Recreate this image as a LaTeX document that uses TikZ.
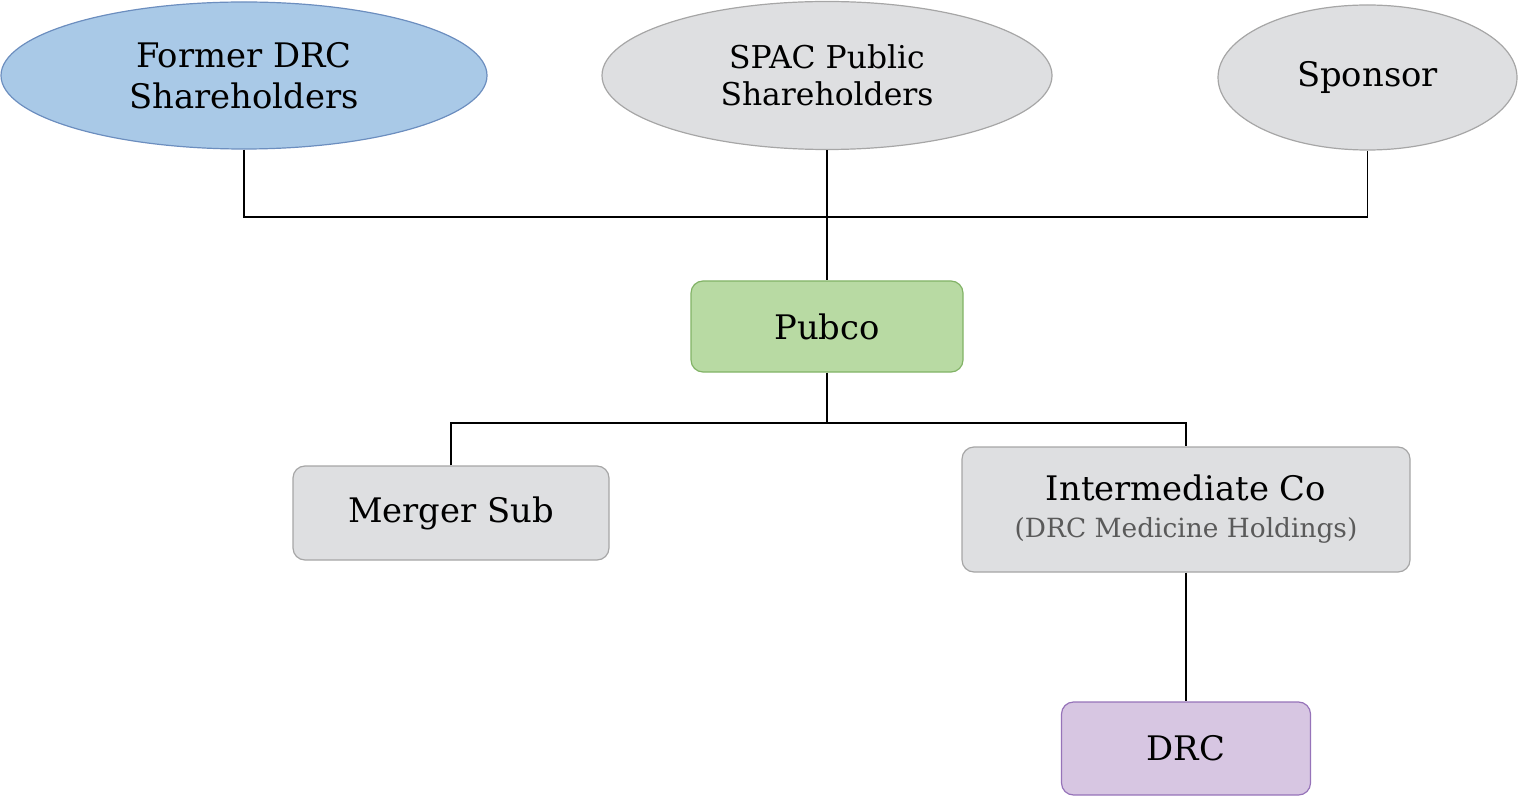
\documentclass[tikz,border=0pt]{standalone}
\usepackage{fontspec}
\setmainfont{DejaVu Serif}
\usepackage{tikz}
\usetikzlibrary{shapes.geometric,positioning}

\definecolor{blueFill}{HTML}{A9C9E7}
\definecolor{blueLine}{HTML}{6C8EBF}
\definecolor{greyFill}{HTML}{DEDFE1}
\definecolor{greyLine}{HTML}{A6A6A6}
\definecolor{greenFill}{HTML}{B8DAA3}
\definecolor{greenLine}{HTML}{82B366}
\definecolor{purpleFill}{HTML}{D7C6E2}
\definecolor{purpleLine}{HTML}{9673B9}
\definecolor{subText}{HTML}{5A5A5A}

\begin{document}
\begin{tikzpicture}[x=0.5pt,y=-0.5pt,
	holder/.style={ellipse, draw=greyLine, fill=greyFill, line width=0.6pt, align=center, inner sep=0pt},
	entity/.style={rectangle, rounded corners=6pt, draw=greyLine, fill=greyFill, line width=0.6pt, align=center, inner sep=0pt},
	big/.style={font=\fontsize{16.9}{20.5}\selectfont},
	link/.style={draw=black, line width=0.6pt}]
	\useasboundingbox (0,0) rectangle (1518,796);
	% shareholders
	\node[holder, big, draw=blueLine, fill=blueFill, minimum width=243pt, minimum height=73.5pt] (former) at (244,75.5) {Former DRC\\Shareholders};
	\node[holder, minimum width=225pt, minimum height=74pt,
		font=\fontsize{15.7}{18.5}\selectfont] (spac) at (827,75.5) {SPAC Public\\Shareholders};
	\node[holder, big, minimum width=149.5pt, minimum height=72.5pt] (sponsor) at (1367.5,77.5) {Sponsor};
	% companies
	\node[entity, big, fill=greenFill, draw=greenLine, minimum width=136pt, minimum height=45.5pt] (pubco) at (827,326.5) {Pubco};
	\node[entity, big, minimum width=158pt, minimum height=47pt] (merger) at (451,513) {Merger Sub};
	\node[entity, big, minimum width=224pt, minimum height=62.5pt] (inter) at (1186,509.5)
		{Intermediate Co\\[-2pt]{\fontsize{13.2}{15}\selectfont\color{subText}(DRC Medicine Holdings)}};
	\node[entity, big, fill=purpleFill, draw=purpleLine, minimum width=124.5pt, minimum height=46.5pt] (drc) at (1186,748.5) {DRC};
	% ownership lines
	\coordinate (topbus) at (827,217);
	\coordinate (lowbus) at (827,423);
	\path[link]
	(former.south) |- (topbus) -| (sponsor.south)
	(spac.south) -- (pubco.north)
	(pubco.south) -- (lowbus)
	(merger.north) |- (lowbus) -| (inter.north)
	(inter.south) -- (drc.north)
	;
\end{tikzpicture}
\end{document}
